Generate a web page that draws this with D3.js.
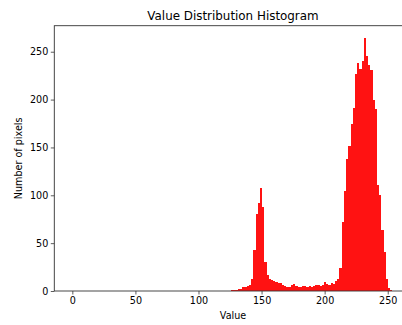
<!DOCTYPE html>
<html>
<head>
<meta charset="utf-8">
<script src="https://cdn.jsdelivr.net/npm/d3@7"></script>
<style>
  body { margin: 0; background: #fff; }
  text { font-family: "DejaVu Sans", sans-serif; fill: #000; }
</style>
</head>
<body>
<div id="histChart"></div>
<script>
// histogram data
var binStart = 126;      // left edge of first bin (value units)
var binWidth = 1.75;     // width of each bin
var counts = [1, 1, 1, 2, 2, 4, 4, 5, 6, 13,
    43, 80, 92, 108, 88, 30, 17, 13, 11, 10,
    9, 8, 8, 6, 5, 4, 4, 6, 7, 5,
    4, 4, 5, 5, 4, 5, 4, 5, 6, 6,
    5, 6, 9, 7, 6, 8, 7, 10, 13, 24,
    72, 104, 138, 151, 175, 191, 227, 238, 232, 240,
    264, 246, 236, 231, 200, 190, 111, 100, 64, 41,
    13, 3, 1];
var xTicks = [0, 50, 100, 150, 200, 250];
var yTicks = [0, 50, 100, 150, 200, 250];
var xDomain = [-14.3, 269];
var yDomain = [0, 277.2];

var body = d3.select("#histChart");
var svg = body.append("svg")
    .attr("width", 402)
    .attr("height", 325);

var plotLeft = 54.3, plotRight = 411.7, plotTop = 25.7, plotBottom = 291;

var x = d3.scaleLinear().domain(xDomain).range([plotLeft, plotRight]);
var y = d3.scaleLinear().domain(yDomain).range([plotBottom, plotTop]);

var bins = counts.map(function(c, i) {
    return { x0: binStart + i * binWidth, x1: binStart + (i + 1) * binWidth, n: c };
});

svg.append("g")
    .attr("class", "bars")
    .selectAll("rect")
    .data(bins)
    .enter().append("rect")
    .attr("x", function(d) { return x(d.x0); })
    .attr("y", function(d) { return y(d.n); })
    .attr("width", function(d) { return x(d.x1) - x(d.x0); })
    .attr("height", function(d) { return y(0) - y(d.n); })
    .attr("fill", "#ff0000")
    .attr("fill-opacity", 0.93)
    .attr("shape-rendering", "crispEdges");

// axes
var xAxis = d3.axisBottom(x).tickValues(xTicks).tickSize(3.5).tickPadding(3);
var yAxis = d3.axisLeft(y).tickValues(yTicks).tickSize(3.5).tickPadding(2.5);

var gx = svg.append("g")
    .attr("transform", "translate(0," + plotBottom + ")")
    .call(xAxis);
var gy = svg.append("g")
    .attr("transform", "translate(" + plotLeft + ",0)")
    .call(yAxis);

[gx, gy].forEach(function(g) {
    g.select(".domain").remove();
    g.selectAll("line").attr("stroke", "#333").attr("stroke-width", 0.8);
    g.selectAll("text").style("font-size", "9.6px").attr("fill", "#000");
});

// frame
svg.append("rect")
    .attr("x", plotLeft)
    .attr("y", plotTop)
    .attr("width", plotRight - plotLeft)
    .attr("height", plotBottom - plotTop)
    .attr("fill", "none")
    .attr("stroke", "#333")
    .attr("stroke-width", 0.9);

svg.append("text")
    .attr("x", (plotLeft + plotRight) / 2)
    .attr("y", 19.5)
    .attr("text-anchor", "middle")
    .style("font-size", "11.9px")
    .text("Value Distribution Histogram");

svg.append("text")
    .attr("x", (plotLeft + plotRight) / 2)
    .attr("y", 318.8)
    .attr("text-anchor", "middle")
    .style("font-size", "9.6px")
    .text("Value");

svg.append("text")
    .attr("transform", "translate(22," + ((plotTop + plotBottom) / 2) + ") rotate(-90)")
    .attr("text-anchor", "middle")
    .style("font-size", "9.6px")
    .text("Number of pixels");
</script>
</body>
</html>
